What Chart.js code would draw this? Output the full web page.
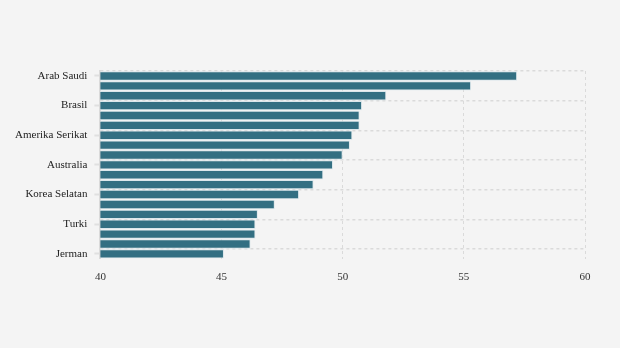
<!DOCTYPE html>
<html>
<head>
<meta charset="utf-8">
<script src="https://cdn.jsdelivr.net/npm/chart.js@4.4.1/dist/chart.umd.min.js"></script>
<style>
  html, body { margin: 0; padding: 0; background: #f4f4f4; }
  canvas { display: block; }
</style>
</head>
<body>
<canvas id="c" width="620" height="348"></canvas>
<script>
// Categories (only every third label is printed in the reference)
const categories = [
  "Arab Saudi", "Afrika Selatan", "India",
  "Brasil", "Indonesia", "Meksiko",
  "Amerika Serikat", "Argentina", "Tiongkok",
  "Australia", "Kanada", "Rusia",
  "Korea Selatan", "Inggris", "Prancis",
  "Turki", "Italia", "Jepang",
  "Jerman"
];
// Values
const values = [
  57.2, 55.3, 51.8,
  50.8, 50.7, 50.7,
  50.4, 50.3, 50.0,
  49.6, 49.2, 48.8,
  48.2, 47.2, 46.5,
  46.4, 46.4, 46.2,
  45.1
];
const xTicks = [40, 45, 50, 55, 60];

const FONT = "'Liberation Serif', 'Times New Roman', serif";
const gridColor = '#dadada';

new Chart(document.getElementById('c'), {
  type: 'bar',
  data: {
    labels: categories,
    datasets: [{
      data: values,
      backgroundColor: '#336f82',
      borderColor: '#dce7eb',
      borderWidth: 1,
      borderSkipped: false,
      barPercentage: 0.95,
      categoryPercentage: 1.0
    }]
  },
  options: {
    indexAxis: 'y',
    responsive: false,
    animation: false,
    devicePixelRatio: 1,
    layout: { padding: { left: 8, right: 35, top: 71, bottom: 52 } },
    plugins: { legend: { display: false }, tooltip: { enabled: false } },
    scales: {
      x: {
        type: 'linear',
        min: xTicks[0],
        max: xTicks[xTicks.length - 1],
        afterBuildTicks: (s) => { s.ticks = xTicks.map(v => ({ value: v })); },
        ticks: { font: { family: FONT, size: 11 }, color: '#333', padding: 12 },
        grid: { color: gridColor, lineWidth: 1, drawTicks: false },
        border: { display: false, dash: [3, 3] }
      },
      y: {
        type: 'category',
        position: 'left',
        ticks: {
          autoSkip: false,
          font: { family: FONT, size: 11 },
          color: '#222',
          padding: 7,
          callback: (v, i) => (i % 3 === 0 ? categories[i] : '')
        },
        grid: {
          offset: false,
          drawOnChartArea: false,
          tickLength: 6,
          tickWidth: 2,
          tickColor: (ctx) => (ctx.index % 3 === 0 ? '#e0e0e0' : 'rgba(0,0,0,0)')
        },
        border: { display: true, color: '#dadada', width: 2 }
      },
      y2: {
        type: 'category',
        position: 'right',
        offset: true,
        ticks: { display: false },
        grid: {
          offset: true,
          drawTicks: false,
          lineWidth: 1.5,
          color: (ctx) => (ctx.index % 3 === 0 ? gridColor : 'rgba(0,0,0,0)')
        },
        border: { display: false, dash: [3, 3] }
      }
    }
  }
});
</script>
</body>
</html>
